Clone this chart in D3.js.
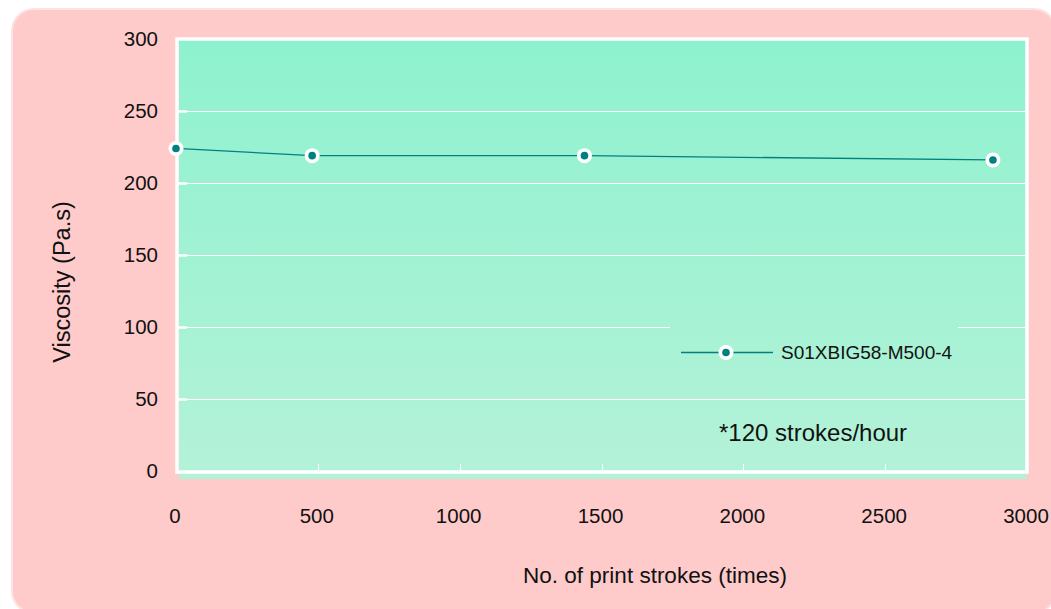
<!DOCTYPE html>
<html>
<head>
<meta charset="utf-8">
<script src="https://cdn.jsdelivr.net/npm/d3@7"></script>
<style>
  html, body { margin: 0; padding: 0; background: #ffffff; }
  svg { display: block; font-family: Arial, "Liberation Sans", sans-serif; }
</style>
</head>
<body>
<svg id="chart" width="1051" height="609"></svg>
<script>
// ---- data ----
const strokes = [0, 480, 1440, 2880];
const viscosity = [224, 219, 219, 216];
const seriesName = "S01XBIG58-M500-4";
const xTicks = [0, 500, 1000, 1500, 2000, 2500, 3000];
const yTicks = [0, 50, 100, 150, 200, 250, 300];
const xTitle = "No. of print strokes (times)";
const yTitle = "Viscosity (Pa.s)";
const note = "*120 strokes/hour";

const svg = d3.select("#chart");
const plot = { left: 177, right: 1027, top: 39, bottom: 472 };

const x = d3.scaleLinear().domain([0, 3000]).range([176, 1027]);
const y = d3.scaleLinear().domain([0, 300]).range([471, 39]);

// gradient
const defs = svg.append("defs");
const grad = defs.append("linearGradient").attr("id", "plotGrad")
  .attr("gradientUnits", "userSpaceOnUse")
  .attr("x1", 0).attr("y1", 40).attr("x2", 0).attr("y2", 479);
grad.append("stop").attr("offset", "0%").attr("stop-color", "#8ef2cf");
grad.append("stop").attr("offset", "100%").attr("stop-color", "#b4f2d8");

// outer pink rounded panel
svg.append("rect")
  .attr("x", 12).attr("y", 9).attr("width", 1044).attr("height", 604)
  .attr("rx", 22).attr("ry", 22)
  .attr("fill", "#ffcbca").attr("stroke", "#fde2e2").attr("stroke-width", 2);

// plot fill
svg.append("rect")
  .attr("x", 179).attr("y", 40).attr("width", 848).attr("height", 439)
  .attr("fill", "url(#plotGrad)");

// gridlines
svg.append("g").selectAll("line")
  .data(yTicks.filter(d => d > 0 && d < 300))
  .join("line")
  .attr("x1", plot.left + 2).attr("x2", plot.right - 1)
  .attr("y1", d => Math.round(y(d)) + 0.5).attr("y2", d => Math.round(y(d)) + 0.5)
  .attr("stroke", "#ffffff").attr("stroke-width", 1.2);

// legend box (hides gridline behind it)
svg.append("rect")
  .attr("x", 670).attr("y", 320).attr("width", 288).attr("height", 66)
  .attr("fill", "url(#plotGrad)");

// y ticks (inward, thick)
svg.append("g").selectAll("line")
  .data(yTicks.filter(d => d > 0 && d < 300))
  .join("line")
  .attr("x1", plot.left).attr("x2", plot.left + 10)
  .attr("y1", d => Math.round(y(d)) + 0.5).attr("y2", d => Math.round(y(d)) + 0.5)
  .attr("stroke", "#ffffff").attr("stroke-width", 2.5);

// x ticks (inward, thin)
svg.append("g").selectAll("line")
  .data(xTicks.filter(d => d > 0 && d < 3000))
  .join("line")
  .attr("x1", d => Math.round(x(d)) + 0.5).attr("x2", d => Math.round(x(d)) + 0.5)
  .attr("y1", plot.bottom - 8).attr("y2", plot.bottom)
  .attr("stroke", "#ffffff").attr("stroke-width", 1);

// frame
svg.append("rect")
  .attr("x", plot.left).attr("y", plot.top)
  .attr("width", plot.right - plot.left).attr("height", plot.bottom - plot.top)
  .attr("fill", "none").attr("stroke", "#ffffff").attr("stroke-width", 3.5);

// tick labels
svg.append("g").selectAll("text")
  .data(yTicks).join("text")
  .attr("x", 158).attr("y", d => y(d))
  .attr("dy", "0.35em").attr("text-anchor", "end")
  .attr("font-size", 20.5).attr("fill", "#111")
  .text(d => d);

svg.append("g").selectAll("text")
  .data(xTicks).join("text")
  .attr("x", d => x(d) - 1).attr("y", 523)
  .attr("text-anchor", "middle")
  .attr("font-size", 20.5).attr("fill", "#111")
  .text(d => d);

// axis titles
svg.append("text")
  .attr("x", 655).attr("y", 583)
  .attr("text-anchor", "middle").attr("font-size", 22.5).attr("fill", "#111")
  .text(xTitle);

svg.append("text")
  .attr("transform", "translate(70,282) rotate(-90)")
  .attr("text-anchor", "middle").attr("font-size", 23.5).attr("fill", "#111")
  .text(yTitle);

// series line
const pts = strokes.map((s, i) => [s, viscosity[i]]);
svg.append("path")
  .datum(pts)
  .attr("d", d3.line().x(d => x(d[0])).y(d => y(d[1])))
  .attr("fill", "none").attr("stroke", "#008080").attr("stroke-width", 1.3);

const markers = svg.append("g").selectAll("g").data(pts).join("g")
  .attr("transform", d => `translate(${x(d[0])},${y(d[1])})`);
markers.append("circle").attr("r", 7.5).attr("fill", "#ffffff");
markers.append("circle").attr("r", 3.8).attr("fill", "#008080");

// legend
const lg = svg.append("g").attr("transform", "translate(681,352.5)");
lg.append("line").attr("x1", 0).attr("x2", 92).attr("y1", 0).attr("y2", 0)
  .attr("stroke", "#008080").attr("stroke-width", 1.3);
lg.append("circle").attr("cx", 45).attr("r", 7.5).attr("fill", "#ffffff");
lg.append("circle").attr("cx", 45).attr("r", 3.8).attr("fill", "#008080");
lg.append("text").attr("x", 100).attr("y", 0).attr("dy", "0.36em")
  .attr("font-size", 19).attr("fill", "#111").text(seriesName);

// note
svg.append("text")
  .attr("x", 719).attr("y", 441)
  .attr("font-size", 24).attr("fill", "#111")
  .text(note);
</script>
</body>
</html>
